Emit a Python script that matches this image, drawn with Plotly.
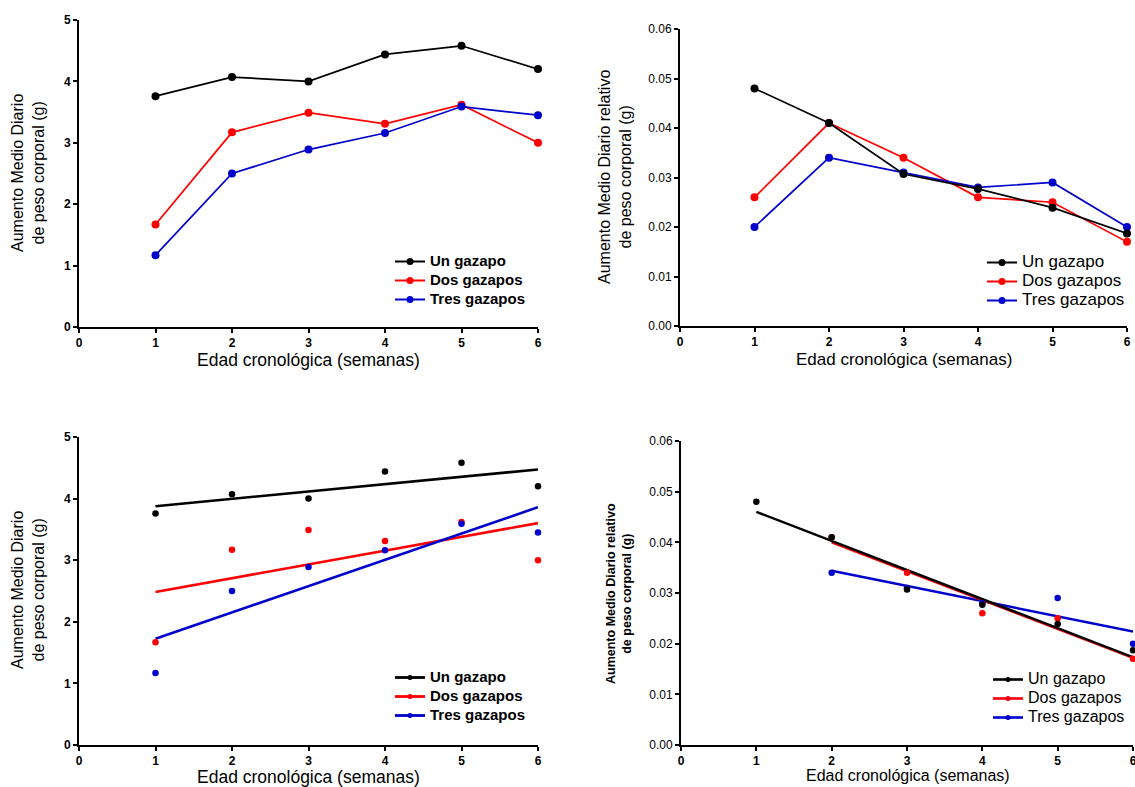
import numpy as np
import plotly.graph_objects as go

# ---------------- data ----------------
weeks = [1, 2, 3, 4, 5, 6]
x_ticks = [0, 1, 2, 3, 4, 5, 6]
series_names = ["Un gazapo", "Dos gazapos", "Tres gazapos"]
colors = ["#000000", "#ff0000", "#0000cc"]

# Aumento Medio Diario de peso corporal (g)
amd_un = [3.76, 4.07, 4.00, 4.44, 4.58, 4.20]
amd_dos = [1.67, 3.17, 3.49, 3.31, 3.62, 3.00]
amd_tres = [1.17, 2.50, 2.89, 3.16, 3.59, 3.45]

# Aumento Medio Diario relativo de peso corporal (g)
rel_un = [0.048, 0.041, 0.0307, 0.0277, 0.0239, 0.0187]
rel_dos = [0.026, 0.041, 0.034, 0.026, 0.025, 0.017]
rel_tres = [0.020, 0.034, 0.031, 0.028, 0.029, 0.020]

# weeks used in the regression panel for the relative gain
rel_fit_weeks_un = [1, 2, 3, 4, 5, 6]
rel_fit_weeks_dos = [2, 3, 4, 5, 6]
rel_fit_weeks_tres = [2, 3, 4, 5, 6]

amd_sets = [amd_un, amd_dos, amd_tres]
rel_sets = [rel_un, rel_dos, rel_tres]
rel_fit_weeks = [rel_fit_weeks_un, rel_fit_weeks_dos, rel_fit_weeks_tres]

W, H = 1135, 787
FONT = "Arial, Liberation Sans, sans-serif"


def px(x):
    return x / W


def py(y):
    return 1 - y / H


fig = go.Figure()


def linfit(xs, ys):
    k, b = np.polyfit(xs, ys, 1)
    return [xs[0], xs[-1]], [k * xs[0] + b, k * xs[-1] + b]


def legname(name, size):
    return '<span style="font-size:%dpx">%s</span>' % (size, name)


# ---------- panel 1 (top-left): lines + markers ----------
for name, ys, c in zip(series_names, amd_sets, colors):
    fig.add_trace(go.Scatter(x=weeks, y=ys, mode="lines+markers", xaxis="x", yaxis="y",
                             line=dict(color=c, width=1.7), marker=dict(color=c, size=8),
                             cliponaxis=False, showlegend=False))
for name, c in zip(series_names, colors):
    fig.add_trace(go.Scatter(x=[None], y=[None], mode="lines+markers", name=legname(name, 15),
                             xaxis="x", yaxis="y",
                             line=dict(color=c, width=2), marker=dict(color=c, size=7),
                             legend="legend"))

# ---------- panel 2 (top-right): relative, lines + markers ----------
for i in [1, 2, 0]:
    c = colors[i]
    fig.add_trace(go.Scatter(x=weeks, y=rel_sets[i], mode="lines+markers", xaxis="x2", yaxis="y2",
                             line=dict(color=c, width=1.7), marker=dict(color=c, size=8),
                             cliponaxis=False, showlegend=False))
for name, c in zip(series_names, colors):
    fig.add_trace(go.Scatter(x=[None], y=[None], mode="lines+markers", name=legname(name, 17),
                             xaxis="x2", yaxis="y2",
                             line=dict(color=c, width=2), marker=dict(color=c, size=7),
                             legend="legend2"))

# ---------- panel 3 (bottom-left): points + linear regression ----------
for ys, c in zip(amd_sets, colors):
    fx, fy = linfit(weeks, ys)
    fig.add_trace(go.Scatter(x=fx, y=fy, mode="lines", xaxis="x3", yaxis="y3",
                             line=dict(color=c, width=2.6), showlegend=False))
for ys, c in zip(amd_sets, colors):
    fig.add_trace(go.Scatter(x=weeks, y=ys, mode="markers", xaxis="x3", yaxis="y3",
                             marker=dict(color=c, size=6.5), cliponaxis=False, showlegend=False))
for name, c in zip(series_names, colors):
    fig.add_trace(go.Scatter(x=[None], y=[None], mode="lines+markers", name=legname(name, 15),
                             xaxis="x3", yaxis="y3",
                             line=dict(color=c, width=2.8), marker=dict(color=c, size=5),
                             legend="legend3"))

# ---------- panel 4 (bottom-right): relative points + regression ----------
for i in [2, 1, 0]:
    xs = rel_fit_weeks[i]
    ys = [rel_sets[i][weeks.index(w)] for w in xs]
    fx, fy = linfit(xs, ys)
    fig.add_trace(go.Scatter(x=fx, y=fy, mode="lines", xaxis="x4", yaxis="y4",
                             line=dict(color=colors[i], width=2.4), showlegend=False))
for i in [2, 1, 0]:
    xs = rel_fit_weeks[i]
    ys = [rel_sets[i][weeks.index(w)] for w in xs]
    fig.add_trace(go.Scatter(x=xs, y=ys, mode="markers", xaxis="x4", yaxis="y4",
                             marker=dict(color=colors[i], size=6.5), cliponaxis=False,
                             showlegend=False))
for name, c in zip(series_names, colors):
    fig.add_trace(go.Scatter(x=[None], y=[None], mode="lines+markers", name=legname(name, 16),
                             xaxis="x4", yaxis="y4",
                             line=dict(color=c, width=2.6), marker=dict(color=c, size=5),
                             legend="legend4"))


# ---------- axes ----------
def xaxis(x0, x1, anchor, bold=True, size=11):
    return dict(domain=[px(x0), px(x1)], anchor=anchor, range=[0, 6], tickvals=x_ticks,
                showline=True, linecolor="black", linewidth=2, ticks="outside", ticklen=4,
                tickwidth=1.5, tickcolor="black", showgrid=False, zeroline=False,
                automargin=False, ticklabeloverflow="allow",
                tickfont=dict(family=FONT, size=size, color="black",
                              weight="bold" if bold else "normal"),
                fixedrange=True)


def yaxis(y_top, y_bot, anchor, rng, dtick, fmt, bold=True, size=11):
    return dict(domain=[py(y_bot), py(y_top)], anchor=anchor, range=rng, dtick=dtick,
                tickformat=fmt, showline=True, linecolor="black", linewidth=2,
                ticks="outside", ticklen=4, tickwidth=1.5, tickcolor="black",
                showgrid=False, zeroline=False, automargin=False, ticklabeloverflow="allow",
                tickfont=dict(family=FONT, size=size, color="black",
                              weight="bold" if bold else "normal"),
                fixedrange=True)


layout = dict(
    width=W, height=H, margin=dict(l=0, r=0, t=0, b=0, autoexpand=False),
    paper_bgcolor="white", plot_bgcolor="white",
    font=dict(family=FONT, color="black"),
    xaxis=xaxis(79, 538, "y", size=12),
    yaxis=yaxis(20, 327, "x", [0, 5], 1, "d", size=12),
    xaxis2=xaxis(680, 1127, "y2", bold=True, size=12),
    yaxis2=yaxis(29, 326, "x2", [0, 0.06], 0.01, ".2f", bold=False, size=12),
    xaxis3=xaxis(79, 538, "y3", size=12),
    yaxis3=yaxis(437, 745, "x3", [0, 5], 1, "d", size=12),
    xaxis4=xaxis(681, 1133, "y4", bold=True, size=12),
    yaxis4=yaxis(441, 745, "x4", [0, 0.06], 0.01, ".2f", bold=False, size=12),
)


def leg(x, y, bold):
    return dict(x=px(x), y=py(y), xanchor="left", yanchor="top", bgcolor="rgba(0,0,0,0)",
                borderwidth=0, itemwidth=30, tracegroupgap=0,
                font=dict(family=FONT, size=11, color="black",
                          weight="bold" if bold else "normal"))


layout["legend"] = leg(390, 247, True)
layout["legend2"] = leg(982, 248, False)
layout["legend3"] = leg(390, 663, True)
layout["legend4"] = leg(988, 665, False)

ann = []
ytitle1 = "Aumento Medio Diario<br>de peso corporal (g)"
ytitle2 = "Aumento Medio Diario relativo<br>de peso corporal (g)"
xtitle = "Edad cronológica (semanas)"


def a(text, x, y, size, bold=False, angle=0):
    ann.append(dict(text=text, x=px(x), y=py(y), xref="paper", yref="paper",
                    xanchor="center", yanchor="middle", showarrow=False, textangle=angle,
                    font=dict(family=FONT, size=size, color="black",
                              weight="bold" if bold else "normal")))


a(ytitle1, 28, 173, 16, angle=-90)
a(ytitle2, 615, 177, 16, angle=-90)
a(ytitle1, 28, 590, 16, angle=-90)
a(ytitle2, 619, 594, 12.5, bold=True, angle=-90)
a(xtitle, 308, 360, 17.5)
a(xtitle, 904, 359, 17)
a(xtitle, 308, 777, 17.5)
a(xtitle, 908, 775, 16)
layout["annotations"] = ann

fig.update_layout(**layout)

fig.write_html("out.html", config={"displayModeBar": False},
               post_script="document.body.style.margin='0';")
